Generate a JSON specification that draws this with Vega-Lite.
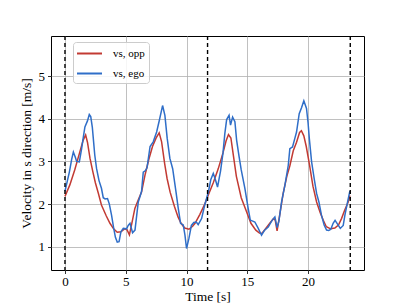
{
  "$schema": "https://vega.github.io/schema/vega-lite/v6.json",
  "autosize": "none",
  "width": 313,
  "height": 234,
  "padding": {"left": 51, "top": 36, "right": 41, "bottom": 34},
  "background": "white",
  "config": {
    "font": "Liberation Serif",
    "view": {"stroke": "black", "strokeWidth": 1},
    "axis": {
      "labelFont": "Liberation Serif",
      "titleFont": "Liberation Serif",
      "labelFontSize": 13,
      "titleFontSize": 13.5,
      "titleFontWeight": "normal",
      "labelColor": "black",
      "titleColor": "black",
      "gridColor": "#b0b0b0",
      "gridWidth": 0.8,
      "domain": false,
      "tickColor": "black",
      "tickSize": 3.5,
      "tickWidth": 0.8
    }
  },
  "datasets": {
    "series": [
      {"t": 0, "v": 2.18, "s": "opp"},
      {"t": 0.4, "v": 2.45, "s": "opp"},
      {"t": 0.8, "v": 2.8, "s": "opp"},
      {"t": 1.2, "v": 3.2, "s": "opp"},
      {"t": 1.5, "v": 3.5, "s": "opp"},
      {"t": 1.7, "v": 3.62, "s": "opp"},
      {"t": 1.85, "v": 3.45, "s": "opp"},
      {"t": 2.06, "v": 3.07, "s": "opp"},
      {"t": 2.3, "v": 2.75, "s": "opp"},
      {"t": 2.5, "v": 2.5, "s": "opp"},
      {"t": 2.75, "v": 2.25, "s": "opp"},
      {"t": 3.0, "v": 1.98, "s": "opp"},
      {"t": 3.4, "v": 1.72, "s": "opp"},
      {"t": 3.7, "v": 1.55, "s": "opp"},
      {"t": 4.0, "v": 1.42, "s": "opp"},
      {"t": 4.3, "v": 1.34, "s": "opp"},
      {"t": 4.6, "v": 1.35, "s": "opp"},
      {"t": 4.9, "v": 1.42, "s": "opp"},
      {"t": 5.1, "v": 1.4, "s": "opp"},
      {"t": 5.3, "v": 1.28, "s": "opp"},
      {"t": 5.5, "v": 1.55, "s": "opp"},
      {"t": 5.75, "v": 1.9, "s": "opp"},
      {"t": 6.0, "v": 2.08, "s": "opp"},
      {"t": 6.3, "v": 2.28, "s": "opp"},
      {"t": 6.6, "v": 2.7, "s": "opp"},
      {"t": 6.9, "v": 3.05, "s": "opp"},
      {"t": 7.2, "v": 3.35, "s": "opp"},
      {"t": 7.5, "v": 3.55, "s": "opp"},
      {"t": 7.75, "v": 3.67, "s": "opp"},
      {"t": 7.95, "v": 3.46, "s": "opp"},
      {"t": 8.2, "v": 2.95, "s": "opp"},
      {"t": 8.4, "v": 2.6, "s": "opp"},
      {"t": 8.65, "v": 2.28, "s": "opp"},
      {"t": 9.0, "v": 1.95, "s": "opp"},
      {"t": 9.3, "v": 1.7, "s": "opp"},
      {"t": 9.55, "v": 1.55, "s": "opp"},
      {"t": 9.85, "v": 1.44, "s": "opp"},
      {"t": 10.2, "v": 1.41, "s": "opp"},
      {"t": 10.5, "v": 1.48, "s": "opp"},
      {"t": 10.7, "v": 1.55, "s": "opp"},
      {"t": 11.1, "v": 1.76, "s": "opp"},
      {"t": 11.5, "v": 2.0, "s": "opp"},
      {"t": 11.8, "v": 2.22, "s": "opp"},
      {"t": 12.2, "v": 2.5, "s": "opp"},
      {"t": 12.6, "v": 2.82, "s": "opp"},
      {"t": 13.0, "v": 3.2, "s": "opp"},
      {"t": 13.25, "v": 3.48, "s": "opp"},
      {"t": 13.45, "v": 3.63, "s": "opp"},
      {"t": 13.65, "v": 3.55, "s": "opp"},
      {"t": 13.85, "v": 3.15, "s": "opp"},
      {"t": 14.1, "v": 2.65, "s": "opp"},
      {"t": 14.5, "v": 2.15, "s": "opp"},
      {"t": 14.9, "v": 1.85, "s": "opp"},
      {"t": 15.3, "v": 1.55, "s": "opp"},
      {"t": 15.7, "v": 1.39, "s": "opp"},
      {"t": 16.0, "v": 1.32, "s": "opp"},
      {"t": 16.2, "v": 1.31, "s": "opp"},
      {"t": 16.5, "v": 1.42, "s": "opp"},
      {"t": 16.85, "v": 1.55, "s": "opp"},
      {"t": 17.15, "v": 1.66, "s": "opp"},
      {"t": 17.3, "v": 1.62, "s": "opp"},
      {"t": 17.45, "v": 1.37, "s": "opp"},
      {"t": 17.65, "v": 1.72, "s": "opp"},
      {"t": 17.95, "v": 2.25, "s": "opp"},
      {"t": 18.25, "v": 2.65, "s": "opp"},
      {"t": 18.5, "v": 2.9, "s": "opp"},
      {"t": 18.78, "v": 3.25, "s": "opp"},
      {"t": 19.05, "v": 3.45, "s": "opp"},
      {"t": 19.3, "v": 3.68, "s": "opp"},
      {"t": 19.45, "v": 3.72, "s": "opp"},
      {"t": 19.65, "v": 3.6, "s": "opp"},
      {"t": 19.85, "v": 3.35, "s": "opp"},
      {"t": 20.1, "v": 2.95, "s": "opp"},
      {"t": 20.4, "v": 2.42, "s": "opp"},
      {"t": 20.7, "v": 2.05, "s": "opp"},
      {"t": 21.0, "v": 1.8, "s": "opp"},
      {"t": 21.25, "v": 1.62, "s": "opp"},
      {"t": 21.5, "v": 1.47, "s": "opp"},
      {"t": 21.85, "v": 1.42, "s": "opp"},
      {"t": 22.2, "v": 1.44, "s": "opp"},
      {"t": 22.5, "v": 1.51, "s": "opp"},
      {"t": 22.75, "v": 1.66, "s": "opp"},
      {"t": 23.0, "v": 1.85, "s": "opp"},
      {"t": 23.3, "v": 2.05, "s": "opp"},
      {"t": 23.44, "v": 2.2, "s": "opp"},
      {"t": 0, "v": 2.3, "s": "ego"},
      {"t": 0.2, "v": 2.55, "s": "ego"},
      {"t": 0.36, "v": 2.75, "s": "ego"},
      {"t": 0.55, "v": 3.05, "s": "ego"},
      {"t": 0.69, "v": 3.22, "s": "ego"},
      {"t": 0.85, "v": 3.1, "s": "ego"},
      {"t": 0.96, "v": 3.0, "s": "ego"},
      {"t": 1.18, "v": 2.99, "s": "ego"},
      {"t": 1.37, "v": 3.3, "s": "ego"},
      {"t": 1.5, "v": 3.55, "s": "ego"},
      {"t": 1.64, "v": 3.81, "s": "ego"},
      {"t": 1.85, "v": 3.95, "s": "ego"},
      {"t": 2.0, "v": 4.1, "s": "ego"},
      {"t": 2.12, "v": 4.05, "s": "ego"},
      {"t": 2.25, "v": 3.8, "s": "ego"},
      {"t": 2.33, "v": 3.54, "s": "ego"},
      {"t": 2.45, "v": 3.15, "s": "ego"},
      {"t": 2.6, "v": 2.83, "s": "ego"},
      {"t": 2.8, "v": 2.55, "s": "ego"},
      {"t": 3.0, "v": 2.37, "s": "ego"},
      {"t": 3.15, "v": 2.15, "s": "ego"},
      {"t": 3.3, "v": 2.12, "s": "ego"},
      {"t": 3.5, "v": 2.13, "s": "ego"},
      {"t": 3.65, "v": 2.0, "s": "ego"},
      {"t": 3.83, "v": 1.74, "s": "ego"},
      {"t": 4.0, "v": 1.45, "s": "ego"},
      {"t": 4.15, "v": 1.22, "s": "ego"},
      {"t": 4.3, "v": 1.11, "s": "ego"},
      {"t": 4.45, "v": 1.12, "s": "ego"},
      {"t": 4.6, "v": 1.35, "s": "ego"},
      {"t": 4.8, "v": 1.43, "s": "ego"},
      {"t": 5.07, "v": 1.42, "s": "ego"},
      {"t": 5.2, "v": 1.5, "s": "ego"},
      {"t": 5.35, "v": 1.55, "s": "ego"},
      {"t": 5.56, "v": 1.33, "s": "ego"},
      {"t": 5.76, "v": 1.39, "s": "ego"},
      {"t": 6.03, "v": 2.05, "s": "ego"},
      {"t": 6.2, "v": 2.2, "s": "ego"},
      {"t": 6.3, "v": 2.3, "s": "ego"},
      {"t": 6.44, "v": 2.75, "s": "ego"},
      {"t": 6.6, "v": 2.78, "s": "ego"},
      {"t": 6.75, "v": 2.85, "s": "ego"},
      {"t": 7.0, "v": 3.35, "s": "ego"},
      {"t": 7.26, "v": 3.46, "s": "ego"},
      {"t": 7.54, "v": 3.69, "s": "ego"},
      {"t": 7.76, "v": 3.96, "s": "ego"},
      {"t": 8.03, "v": 4.31, "s": "ego"},
      {"t": 8.22, "v": 4.08, "s": "ego"},
      {"t": 8.41, "v": 3.54, "s": "ego"},
      {"t": 8.63, "v": 3.07, "s": "ego"},
      {"t": 8.86, "v": 2.83, "s": "ego"},
      {"t": 9.13, "v": 2.29, "s": "ego"},
      {"t": 9.32, "v": 1.9, "s": "ego"},
      {"t": 9.51, "v": 1.55, "s": "ego"},
      {"t": 9.73, "v": 1.51, "s": "ego"},
      {"t": 9.87, "v": 1.27, "s": "ego"},
      {"t": 10.0, "v": 0.96, "s": "ego"},
      {"t": 10.2, "v": 1.2, "s": "ego"},
      {"t": 10.4, "v": 1.5, "s": "ego"},
      {"t": 10.6, "v": 1.57, "s": "ego"},
      {"t": 10.8, "v": 1.58, "s": "ego"},
      {"t": 10.96, "v": 1.52, "s": "ego"},
      {"t": 11.24, "v": 1.66, "s": "ego"},
      {"t": 11.5, "v": 1.98, "s": "ego"},
      {"t": 11.8, "v": 2.29, "s": "ego"},
      {"t": 12.0, "v": 2.58, "s": "ego"},
      {"t": 12.2, "v": 2.72, "s": "ego"},
      {"t": 12.39, "v": 2.56, "s": "ego"},
      {"t": 12.55, "v": 2.4, "s": "ego"},
      {"t": 12.8, "v": 2.78, "s": "ego"},
      {"t": 13.0, "v": 3.2, "s": "ego"},
      {"t": 13.15, "v": 3.65, "s": "ego"},
      {"t": 13.3, "v": 3.98, "s": "ego"},
      {"t": 13.5, "v": 4.08, "s": "ego"},
      {"t": 13.62, "v": 3.85, "s": "ego"},
      {"t": 13.79, "v": 4.04, "s": "ego"},
      {"t": 13.98, "v": 3.93, "s": "ego"},
      {"t": 14.12, "v": 3.5, "s": "ego"},
      {"t": 14.33, "v": 3.1, "s": "ego"},
      {"t": 14.5, "v": 2.8, "s": "ego"},
      {"t": 14.8, "v": 2.37, "s": "ego"},
      {"t": 15.07, "v": 1.9, "s": "ego"},
      {"t": 15.25, "v": 1.62, "s": "ego"},
      {"t": 15.45, "v": 1.6, "s": "ego"},
      {"t": 15.62, "v": 1.58, "s": "ego"},
      {"t": 15.9, "v": 1.43, "s": "ego"},
      {"t": 16.17, "v": 1.27, "s": "ego"},
      {"t": 16.4, "v": 1.38, "s": "ego"},
      {"t": 16.72, "v": 1.46, "s": "ego"},
      {"t": 17.0, "v": 1.6, "s": "ego"},
      {"t": 17.27, "v": 1.7, "s": "ego"},
      {"t": 17.45, "v": 1.45, "s": "ego"},
      {"t": 17.6, "v": 1.6, "s": "ego"},
      {"t": 17.82, "v": 2.05, "s": "ego"},
      {"t": 18.09, "v": 2.44, "s": "ego"},
      {"t": 18.37, "v": 2.91, "s": "ego"},
      {"t": 18.5, "v": 3.3, "s": "ego"},
      {"t": 18.72, "v": 3.34, "s": "ego"},
      {"t": 18.91, "v": 3.54, "s": "ego"},
      {"t": 19.05, "v": 3.69, "s": "ego"},
      {"t": 19.27, "v": 4.12, "s": "ego"},
      {"t": 19.46, "v": 4.26, "s": "ego"},
      {"t": 19.65, "v": 4.42, "s": "ego"},
      {"t": 19.87, "v": 4.24, "s": "ego"},
      {"t": 20.0, "v": 3.9, "s": "ego"},
      {"t": 20.1, "v": 3.54, "s": "ego"},
      {"t": 20.29, "v": 2.99, "s": "ego"},
      {"t": 20.5, "v": 2.6, "s": "ego"},
      {"t": 20.7, "v": 2.25, "s": "ego"},
      {"t": 20.89, "v": 2.05, "s": "ego"},
      {"t": 21.1, "v": 1.74, "s": "ego"},
      {"t": 21.32, "v": 1.51, "s": "ego"},
      {"t": 21.52, "v": 1.39, "s": "ego"},
      {"t": 21.7, "v": 1.38, "s": "ego"},
      {"t": 21.87, "v": 1.41, "s": "ego"},
      {"t": 22.06, "v": 1.55, "s": "ego"},
      {"t": 22.22, "v": 1.62, "s": "ego"},
      {"t": 22.45, "v": 1.52, "s": "ego"},
      {"t": 22.65, "v": 1.43, "s": "ego"},
      {"t": 22.89, "v": 1.5, "s": "ego"},
      {"t": 23.03, "v": 1.74, "s": "ego"},
      {"t": 23.25, "v": 2.05, "s": "ego"},
      {"t": 23.44, "v": 2.31, "s": "ego"}
    ],
    "laps": [
      {"t": 0},
      {"t": 11.73},
      {"t": 23.47}
    ]
  },
  "layer": [
    {
      "data": {"name": "series"},
      "mark": {"type": "line", "strokeWidth": 1.5, "clip": true},
      "encoding": {
        "x": {
          "field": "t", "type": "quantitative",
          "scale": {"domain": [-1.15, 24.6], "nice": false, "zero": false},
          "axis": {"title": "Time [s]", "values": [0, 5, 10, 15, 20], "labelFont": "Liberation Serif", "titleFont": "Liberation Serif", "labelPadding": 2, "titlePadding": 1}
        },
        "y": {
          "field": "v", "type": "quantitative",
          "scale": {"domain": [0.455, 5.94], "nice": false, "zero": false},
          "axis": {"title": "Velocity in s direction [m/s]", "values": [1, 2, 3, 4, 5], "labelFont": "Liberation Serif", "titleFont": "Liberation Serif", "labelPadding": 3, "titlePadding": 5}
        },
        "color": {
          "field": "s", "type": "nominal",
          "scale": {"domain": ["opp", "ego"], "range": ["#c23a33", "#2f6ec8"]},
          "legend": {
            "title": null,
            "orient": "none",
            "legendX": 22,
            "legendY": 6,
            "direction": "vertical",
            "fillColor": "rgba(255,255,255,0.85)",
            "strokeColor": "#cccccc",
            "cornerRadius": 3,
            "padding": 4,
            "rowPadding": 7,
            "symbolType": "M-2,0H2",
            "symbolSize": 156,
            "symbolStrokeWidth": 2,
            "symbolOffset": 5,
            "labelOffset": 16,
            "labelFont": "Liberation Serif",
            "labelFontSize": 11,
            "labelColor": "black",
            "labelExpr": "datum.value == 'opp' ? 'vs, opp' : 'vs, ego'"
          }
        },
        "detail": {"field": "s"}
      }
    },
    {
      "data": {"name": "laps"},
      "mark": {"type": "rule", "color": "black", "strokeDash": [4, 3], "strokeWidth": 1.4},
      "encoding": {
        "x": {"field": "t", "type": "quantitative"}
      }
    }
  ]
}
